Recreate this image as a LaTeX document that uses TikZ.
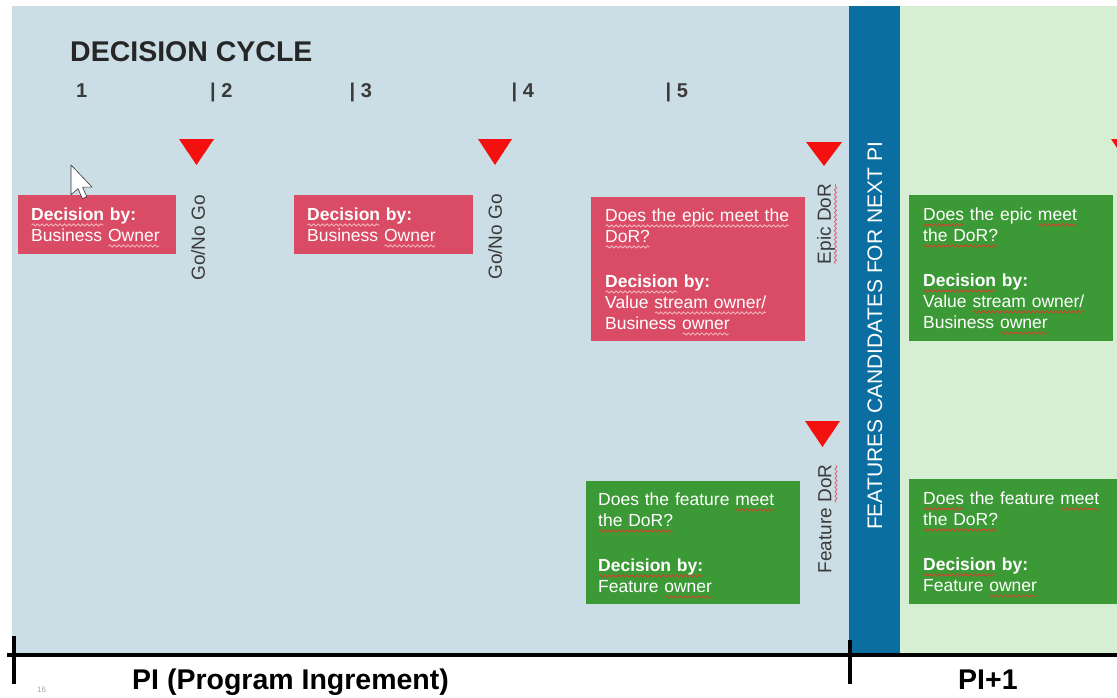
\documentclass[tikz,border=0pt]{standalone}
\usepackage{fontspec}
\setmainfont{Liberation Sans}
\usetikzlibrary{decorations.pathmorphing}

\definecolor{bgblue}{HTML}{CBDDE5}
\definecolor{barblue}{HTML}{0B6EA0}
\definecolor{bggreen}{HTML}{D6EFD3}
\definecolor{epicred}{HTML}{DA4C65}
\definecolor{okgreen}{HTML}{3C9A36}
\definecolor{gatered}{HTML}{F51010}
\definecolor{labelgray}{HTML}{3A3A3A}
\definecolor{squigred}{HTML}{D8402A}
\definecolor{squigpale}{HTML}{F4B8C0}
\definecolor{squigpink}{HTML}{E06070}

% spell-check style wavy underline below a piece of text
\newsavebox\squigbox
\newcommand\squig[2][squigred]{\sbox\squigbox{#2}%
  \tikz[baseline=0pt,x=1pt,y=1pt]{\useasboundingbox (0pt,0pt);
    \draw[draw=#1, line width=0.8pt, decorate,
      decoration={snake, amplitude=1.1pt, segment length=4.5pt}]
      (0.5pt,-4.5pt) -- (\wd\squigbox-0.5pt,-4.5pt);}%
  \usebox\squigbox}

\begin{document}
\begin{tikzpicture}[x=1pt,y=-1pt,
  boxtext/.style={font=\fontsize{17.5}{21}\selectfont, text=white, align=left,
    inner ysep=0pt, anchor=north west},
  redbox/.style={boxtext, fill=epicred},
  greenbox/.style={boxtext, fill=okgreen},
  gate/.style={fill=gatered},
  vlabel/.style={rotate=90, font=\fontsize{19}{20}\selectfont, text=labelgray, inner sep=0pt},
  bartext/.style={rotate=90, font=\fontsize{21}{22}\selectfont, text=white, inner sep=0pt},
  num/.style={font=\bfseries\fontsize{20}{22}\selectfont, text=labelgray, anchor=base west, inner sep=0pt},
  axis/.style={line width=3.5pt, black},
  tick/.style={line width=3.4pt, black},
]
\useasboundingbox (0,0) rectangle (1117,697);
\begin{scope}
\clip (0,0) rectangle (1117,697);
\fill[white] (0,0) rectangle (1117,697);

% background bands
\fill[bgblue] (12,6) rectangle (849,655);
\fill[barblue] (849,6) rectangle (900,655);
\fill[bggreen] (900,6) rectangle (1117,655);

% heading and cycle numbers
\node[font=\bfseries\fontsize{28.5}{30}\selectfont, text=black!85, anchor=base west, inner sep=0pt]
  (title) at (70,61.5) {DECISION CYCLE};
\node[num] (c1) at (76,97) {1};
\node[num] (c2) at (210,97) {| 2};
\node[num] (c3) at (349.5,97) {| 3};
\node[num] (c4) at (511.5,97) {| 4};
\node[num] (c5) at (665.5,97) {| 5};

% gate markers
\fill[gate] (179,139) -- (214,139) -- (196.5,165) -- cycle;
\fill[gate] (478,139) -- (512,139) -- (495,165) -- cycle;
\fill[gate] (806,142) -- (842,142) -- (824,166) -- cycle;
\fill[gate] (805,421) -- (840,421) -- (822.5,447) -- cycle;
\fill[gate] (1111,139) -- (1146,139) -- (1128.5,165) -- cycle;

% decision boxes
\node[redbox, text width=132pt, inner xsep=13pt, minimum width=158pt, minimum height=59pt]
  (owner1) at (18,195)
  {\textbf{\squig[squigpale]{Decision} by:}\\Business \squig[squigpale]{Owner}};
\node[redbox, text width=153pt, inner xsep=13pt, minimum width=179pt, minimum height=59pt]
  (owner2) at (294,195)
  {\textbf{\squig[squigpale]{Decision} by:}\\Business \squig[squigpale]{Owner}};
\node[redbox, text width=186pt, inner xsep=14pt, minimum width=214pt, minimum height=144pt]
  (epic) at (591,197)
  {\squig[squigpale]{Does the epic meet the}\\\squig[squigpale]{DoR?}\\[24pt]
   \textbf{\squig[squigpale]{Decision} by:}\\Value \squig[squigpale]{stream owner/}\\Business \squig[squigpale]{owner}};
\node[greenbox, text width=176pt, inner xsep=14pt, minimum width=204pt, minimum height=146pt]
  (epicnext) at (909,195)
  {\squig{Does} the epic \squig{meet}\\\squig{the DoR?}\\[24pt]
   \textbf{\squig{Decision} by:}\\Value \squig{stream owner/}\\Business \squig{owner}};
\node[greenbox, text width=190pt, inner xsep=12pt, minimum width=214pt, minimum height=123pt]
  (feature) at (586,481)
  {Does the feature \squig{meet}\\\squig{the DoR?}\\[24pt]
   \textbf{\squig{Decision by:}}\\Feature \squig{owner}};
\node[greenbox, text width=200pt, inner xsep=14pt, minimum width=228pt, minimum height=125pt]
  (featurenext) at (909,479)
  {\squig{Does} the feature \squig{meet}\\\squig{the DoR?}\\[24pt]
   \textbf{\squig{Decision} by:}\\Feature \squig{owner}};

% gate labels
\node[vlabel] (gng1) at (198,238) {Go/No Go};
\node[vlabel] (gng2) at (495,237) {Go/No Go};
\node[vlabel] (epicdor) at (826,224) {\squig[squigpink]{Epic DoR}};
\node[vlabel] (featdor) at (825,519) {Feature \squig[squigpink]{DoR}};

% bar between increments
\node[bartext] (nextpi) at (875,336) {FEATURES CANDIDATES FOR NEXT PI};

% time axis
\coordinate (axisL) at (7,655);
\coordinate (axisR) at (1117,655);
\coordinate (tick0a) at (14,636);
\coordinate (tick0b) at (14,684);
\coordinate (tick1a) at (850,640);
\coordinate (tick1b) at (850,684);
\draw[axis] (axisL) -- (axisR);
\draw[tick] (tick0a) -- (tick0b);
\draw[tick] (tick1a) -- (tick1b);
\node[font=\bfseries\fontsize{28.5}{30}\selectfont, anchor=base west, inner sep=0pt]
  (pi) at (132,689) {PI (Program Ingrement)};
\node[font=\bfseries\fontsize{28.5}{30}\selectfont, anchor=base west, inner sep=0pt]
  (pinext) at (958,689) {PI+1};
\node[font=\fontsize{8}{9}\selectfont, text=black!35, anchor=base west, inner sep=0pt]
  (page) at (37,692) {16};

% mouse pointer
\begin{scope}[shift={(71,165)}, scale=1.75]
  \filldraw[fill=white, draw=black!80, line width=0.6pt, line join=round]
    (0,0) -- (0,17) -- (4,13.5) -- (6.5,19.2) -- (9,18.1) -- (6.6,12.6) -- (12,12.6) -- cycle;
\end{scope}
\end{scope}
\end{tikzpicture}
\end{document}
